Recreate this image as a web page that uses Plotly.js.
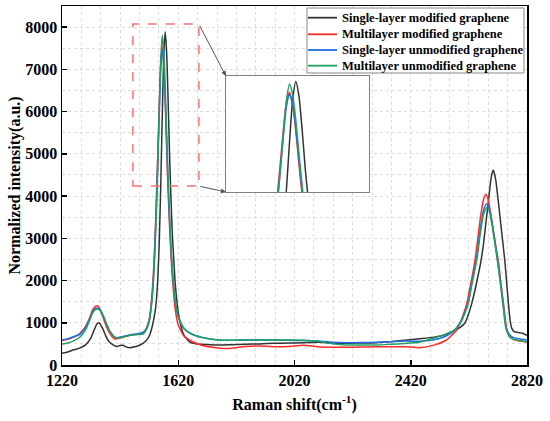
<!DOCTYPE html>
<html>
<head>
<meta charset="utf-8">
<script src="https://cdn.plot.ly/plotly-3.0.1.min.js"></script>
<style>html,body{margin:0;padding:0;background:#fff;}#chart{width:550px;height:421px;}</style>
</head>
<body>
<div id="chart"></div>
<script>
// Series names
const seriesNames = [
  "Single-layer modified graphene",
  "Multilayer modified graphene",
  "Single-layer unmodified graphene",
  "Multilayer unmodified graphene"
];
const seriesColors = ["#333333", "#ff2a2a", "#1e6fe6", "#1fa060"];

// [Raman shift, intensity]
const singleModified = [
  [1220,280],[1240,310],[1260,360],[1280,400],[1300,470],[1320,650],[1330,820],[1340,970],[1345,1000],[1350,980],
  [1360,860],[1370,700],[1380,570],[1400,460],[1410,440],[1420,460],[1430,470],[1440,430],[1455,410],[1470,430],
  [1480,450],[1490,480],[1500,520],[1510,580],[1520,680],[1530,900],[1540,1250],[1545,1550],[1550,2100],[1555,3000],
  [1560,4300],[1565,5900],[1570,7300],[1575,7890],[1580,7400],[1585,6300],[1590,5000],[1595,3950],[1600,3050],[1605,2450],
  [1610,1900],[1620,1250],[1630,900],[1640,700],[1660,540],[1680,500],[1700,490],[1750,475],[1800,480],[1850,490],
  [1900,500],[1950,513],[2000,520],[2050,527],[2100,537],[2150,520],[2200,513],[2250,520],[2300,528],[2350,550],
  [2400,585],[2450,620],[2500,660],[2540,720],[2570,820],[2590,890],[2607,1000],[2620,1230],[2630,1460],[2640,1740],
  [2650,2060],[2660,2400],[2670,2850],[2680,3450],[2690,4050],[2697,4450],[2704,4615],[2712,4400],[2720,3950],[2728,3450],
  [2736,2950],[2744,2450],[2750,1950],[2756,1460],[2762,1050],[2768,860],[2776,790],[2790,770],[2805,750],[2820,700]
];
const multiModified = [
  [1220,580],[1240,610],[1260,660],[1280,740],[1300,900],[1315,1120],[1325,1300],[1335,1390],[1340,1404],[1345,1390],
  [1355,1250],[1365,1050],[1380,800],[1400,620],[1420,640],[1440,680],[1460,710],[1480,730],[1500,760],[1510,860],
  [1520,1080],[1530,1700],[1535,2250],[1540,3000],[1545,4000],[1550,5100],[1555,6250],[1560,7200],[1565,7540],[1570,7100],
  [1575,6250],[1580,5150],[1585,4150],[1590,3300],[1595,2600],[1600,2050],[1610,1300],[1620,950],[1640,680],[1660,590],
  [1680,520],[1700,470],[1750,410],[1800,390],[1850,440],[1900,450],[1950,434],[2000,440],[2050,470],[2100,434],
  [2150,420],[2200,418],[2250,425],[2300,434],[2350,430],[2400,434],[2450,410],[2500,470],[2540,580],[2560,700],
  [2578,828],[2590,1000],[2600,1180],[2613,1460],[2620,1700],[2630,2050],[2641,2485],[2650,2950],[2660,3500],[2670,3900],
  [2678,4040],[2685,3950],[2695,3600],[2705,3150],[2713,2800],[2721,2485],[2730,1950],[2739,1460],[2750,850],[2760,680],
  [2770,620],[2780,590],[2800,560],[2820,545]
];
const singleUnmodified = [
  [1220,590],[1240,620],[1260,670],[1280,720],[1300,880],[1315,1080],[1325,1250],[1335,1340],[1342,1350],[1350,1320],
  [1360,1200],[1370,1030],[1385,800],[1405,650],[1420,660],[1440,690],[1460,720],[1480,740],[1500,780],[1510,860],
  [1520,1050],[1530,1600],[1535,2100],[1540,2850],[1545,3800],[1550,4900],[1555,6050],[1560,7050],[1565,7470],[1570,7150],
  [1575,6350],[1580,5300],[1585,4300],[1590,3450],[1595,2750],[1600,2200],[1610,1480],[1620,1130],[1640,860],[1660,760],
  [1680,700],[1700,660],[1750,600],[1800,585],[1850,590],[1900,590],[1950,590],[2000,585],[2050,580],[2100,570],
  [2150,540],[2200,528],[2250,530],[2300,537],[2350,550],[2400,568],[2450,560],[2500,600],[2540,680],[2570,820],
  [2590,1000],[2600,1150],[2618,1480],[2630,1950],[2647,2550],[2660,3250],[2670,3650],[2680,3811],[2690,3700],[2700,3350],
  [2710,2900],[2718,2520],[2728,2000],[2737,1500],[2748,900],[2760,720],[2770,660],[2790,620],[2820,590]
];
const multiUnmodified = [
  [1220,497],[1240,520],[1260,570],[1280,650],[1300,820],[1315,1050],[1325,1230],[1335,1310],[1342,1325],[1350,1300],
  [1360,1180],[1370,1020],[1385,790],[1405,640],[1420,650],[1440,680],[1460,710],[1480,720],[1500,740],[1510,830],
  [1520,1020],[1530,1550],[1535,2050],[1540,2750],[1545,3700],[1550,4850],[1555,6100],[1560,7250],[1565,7810],[1570,7450],
  [1575,6600],[1580,5500],[1585,4450],[1590,3550],[1595,2800],[1600,2250],[1610,1500],[1620,1150],[1640,870],[1660,750],
  [1680,690],[1700,650],[1750,600],[1800,585],[1850,595],[1900,590],[1950,595],[2000,590],[2050,585],[2100,560],
  [2150,500],[2200,473],[2250,475],[2300,473],[2350,490],[2400,510],[2450,540],[2500,640],[2540,730],[2570,820],
  [2590,980],[2600,1120],[2618,1460],[2630,1900],[2647,2485],[2660,3150],[2670,3550],[2682,3733],[2690,3650],[2700,3300],
  [2710,2850],[2718,2485],[2728,1950],[2737,1460],[2748,850],[2760,670],[2770,620],[2790,580],[2820,552]
];

const xTickVals = [1220, 1620, 2020, 2420, 2820];
const yTickVals = [0, 1000, 2000, 3000, 4000, 5000, 6000, 7000, 8000];
// zoom region (data coordinates) shown in inset
const zoomX = [1464, 1691];
const zoomY = [4237, 8071];

const allSeries = [singleModified, multiModified, singleUnmodified, multiUnmodified];
const traces = [];
allSeries.forEach((s, i) => {
  traces.push({
    x: s.map(p => p[0]), y: s.map(p => p[1]), type: 'scatter', mode: 'lines', name: seriesNames[i],
    showlegend: false,
    line: {color: seriesColors[i], width: 1.5, shape: 'spline', smoothing: 0.6},
    xaxis: 'x', yaxis: 'y'
  });
});
allSeries.forEach((s, i) => {
  traces.push({
    x: s.map(p => p[0]), y: s.map(p => p[1]), type: 'scatter', mode: 'lines',
    showlegend: false, hoverinfo: 'skip',
    line: {color: seriesColors[i], width: 1.5, shape: 'spline', smoothing: 0.6},
    xaxis: 'x2', yaxis: 'y2'
  });
});

const xMin = 1220, xMax = 2820, yMax = 8500;
const insetDomX = [0.3525, 0.66];
const insetDomY = [0.4818, 0.8047];
const insetLeft = xMin + insetDomX[0] * (xMax - xMin);
const insetTop = insetDomY[1] * yMax;
const insetBottom = insetDomY[0] * yMax;

const fontFam = 'Liberation Serif, Times New Roman, serif';
const gridC = '#dcdcdc';

// legend box (paper coords of the plot area)
const legBox = {x0: 0.5269, x1: 0.9935, y0: 0.8134, y1: 0.9944};
const legRows = [0.9674, 0.9212, 0.8774, 0.8338];
const legLineX = [0.5290, 0.5914];
const legTextX = 0.600;

const shapes = [{
  type: 'rect', xref: 'x', yref: 'y',
  x0: zoomX[0], x1: zoomX[1], y0: zoomY[0], y1: zoomY[1],
  line: {color: '#ff7070', width: 1.5, dash: 'dash'}, fillcolor: 'rgba(0,0,0,0)'
}, {
  type: 'rect', xref: 'paper', yref: 'paper',
  x0: legBox.x0, x1: legBox.x1, y0: legBox.y0, y1: legBox.y1,
  line: {color: '#888', width: 1}, fillcolor: '#fff', layer: 'above'
}];
const annotations = [
  {x: insetLeft, y: insetTop, ax: zoomX[1], ay: zoomY[1], xref: 'x', yref: 'y', axref: 'x', ayref: 'y',
   text: '', showarrow: true, arrowhead: 2, arrowsize: 1, arrowwidth: 1, arrowcolor: '#555', standoff: 0, startstandoff: 0},
  {x: insetLeft, y: insetBottom, ax: zoomX[1], ay: zoomY[0], xref: 'x', yref: 'y', axref: 'x', ayref: 'y',
   text: '', showarrow: true, arrowhead: 2, arrowsize: 1, arrowwidth: 1, arrowcolor: '#555', standoff: 0, startstandoff: 0}
];
seriesNames.forEach((n, i) => {
  shapes.push({type: 'line', xref: 'paper', yref: 'paper', x0: legLineX[0], x1: legLineX[1],
    y0: legRows[i], y1: legRows[i], line: {color: seriesColors[i], width: 1.8}, layer: 'above'});
  annotations.push({x: legTextX, y: legRows[i], xref: 'paper', yref: 'paper', text: n, showarrow: false,
    xanchor: 'left', yanchor: 'middle', borderpad: 0,
    font: {size: 12.5, family: fontFam, weight: 'bold', color: '#000'}});
});

const layout = {
  width: 550, height: 421,
  margin: {l: 62, r: 23, t: 6, b: 56},
  paper_bgcolor: '#fff', plot_bgcolor: '#fff',
  font: {family: fontFam, weight: 'bold', color: '#000', size: 16},
  showlegend: false,
  xaxis: {
    domain: [0, 1], range: [xMin, xMax], tickvals: xTickVals, ticktext: xTickVals.map(String),
    ticks: 'inside', ticklen: 5, tickwidth: 1.5, tickcolor: '#000',
    showline: true, linewidth: 1.5, linecolor: '#000', mirror: true,
    showgrid: true, gridcolor: gridC, griddash: 'dot', gridwidth: 1,
    minor: {tick0: 1220, dtick: 400 / 6, showgrid: true, gridcolor: gridC, griddash: 'dot', gridwidth: 1},
    zeroline: false, tickfont: {size: 16, family: fontFam, weight: 'bold'},
    title: {text: 'Raman shift(cm<sup>-1</sup>)', font: {size: 16, family: fontFam, weight: 'bold'}, standoff: 11},
    automargin: false
  },
  yaxis: {
    domain: [0, 1], range: [0, yMax], tickvals: yTickVals, ticktext: yTickVals.map(String),
    ticks: 'inside', ticklen: 5, tickwidth: 1.5, tickcolor: '#000',
    showline: true, linewidth: 1.5, linecolor: '#000', mirror: true,
    showgrid: true, gridcolor: gridC, griddash: 'dot', gridwidth: 1,
    minor: {tick0: 0, dtick: 500, showgrid: true, gridcolor: gridC, griddash: 'dot', gridwidth: 1},
    zeroline: false, tickfont: {size: 16, family: fontFam, weight: 'bold'},
    title: {text: 'Normalized intensity(a.u.)', font: {size: 16, family: fontFam, weight: 'bold'}, standoff: 0},
    automargin: false
  },
  xaxis2: {
    domain: insetDomX, range: zoomX, anchor: 'y2',
    showticklabels: false, ticks: '', showgrid: false, zeroline: false,
    showline: true, mirror: true, linecolor: '#808080', linewidth: 1.2
  },
  yaxis2: {
    domain: insetDomY, range: zoomY, anchor: 'x2',
    showticklabels: false, ticks: '', showgrid: false, zeroline: false,
    showline: true, mirror: true, linecolor: '#808080', linewidth: 1.2
  },
  shapes: shapes,
  annotations: annotations
};

Plotly.newPlot('chart', traces, layout, {displayModeBar: false, staticPlot: true});
</script>
</body>
</html>
